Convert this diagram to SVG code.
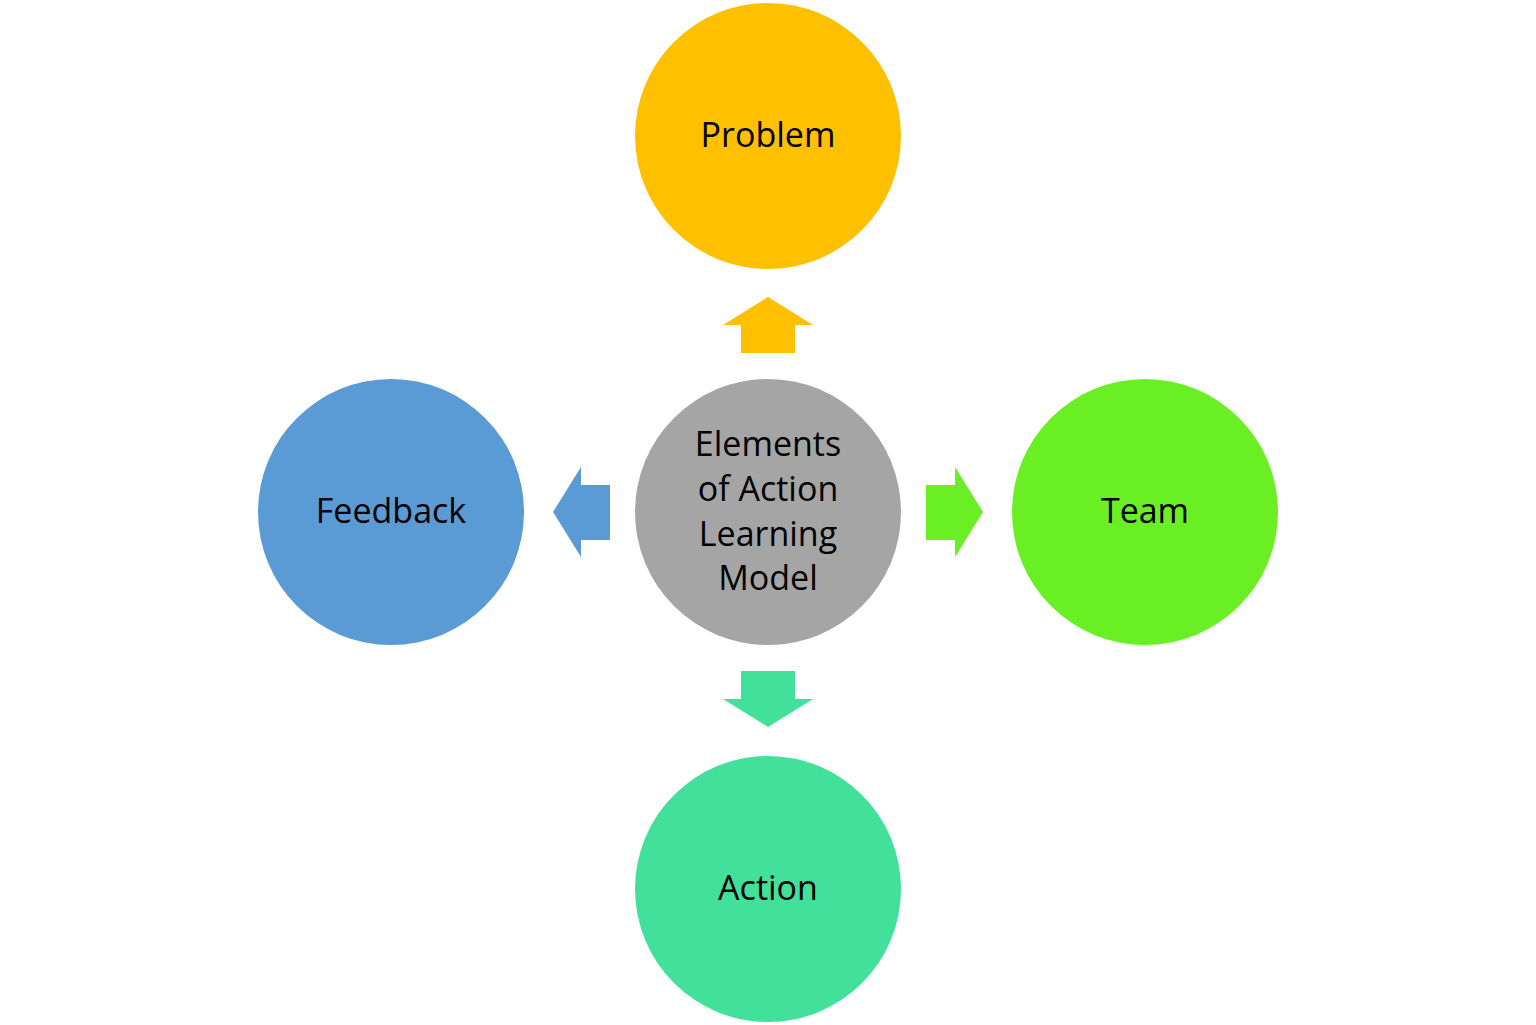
<svg xmlns="http://www.w3.org/2000/svg" width="1536" height="1025" viewBox="0 0 1536 1025">
<style>
  text { font-family: "Open Sans", "Noto Sans", sans-serif; font-size: 34px; fill: #000; text-anchor: middle; }
</style>
<rect x="0" y="0" width="1536" height="1025" fill="#ffffff"/>
<g id="connectors">
  <polygon id="arrow-up" points="768,297 813,325 795,325 795,353 741,353 741,325 723,325" fill="#FFC000"/>
  <polygon id="arrow-left" points="553,512 581,467 581,485 610,485 610,540 581,540 581,557" fill="#5B9BD5"/>
  <polygon id="arrow-right" points="983,512 955,467 955,485 926,485 926,540 955,540 955,557" fill="#6AEF24"/>
  <polygon id="arrow-down" points="768,727 813,699 795,699 795,671 741,671 741,699 723,699" fill="#42E09B"/>
</g>
<g id="node-center">
  <circle cx="768" cy="512" r="133" fill="#A5A5A5"/>
  <text x="768" y="456">Elements</text>
  <text x="768" y="501">of Action</text>
  <text x="768" y="546">Learning</text>
  <text x="768" y="590">Model</text>
</g>
<g id="node-problem">
  <circle cx="768" cy="136" r="133" fill="#FFC000"/>
  <text x="768" y="147">Problem</text>
</g>
<g id="node-feedback">
  <circle cx="391" cy="512" r="133" fill="#5B9BD5"/>
  <text x="391" y="523">Feedback</text>
</g>
<g id="node-team">
  <circle cx="1145" cy="512" r="133" fill="#6AEF24"/>
  <text x="1145" y="523">Team</text>
</g>
<g id="node-action">
  <circle cx="768" cy="889" r="133" fill="#42E09B"/>
  <text x="768" y="900">Action</text>
</g>
</svg>
